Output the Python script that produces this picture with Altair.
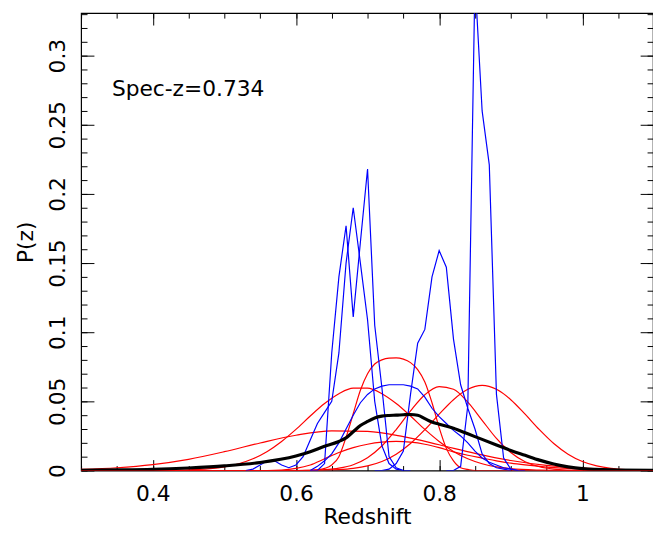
import altair as alt
import pandas as pd

FONT = "DejaVu Sans"

# ---------------- blue curves (z, P(z)) ----------------
b1_z = [0.62, 0.63, 0.64, 0.65, 0.66, 0.67, 0.68, 0.69, 0.70, 0.71, 0.72, 0.73, 0.74, 0.75, 0.76]
b1_p = [0, 0, 0.005, 0.085, 0.14, 0.177, 0.111, 0.165, 0.218, 0.105, 0.06, 0.01, 0.002, 0, 0]

b2_z = [0.53, 0.54, 0.55, 0.56, 0.57, 0.58, 0.59, 0.60, 0.61, 0.62, 0.63, 0.64, 0.65, 0.66,
        0.67, 0.68, 0.69, 0.70, 0.71, 0.72, 0.73, 0.74, 0.75]
b2_p = [0, 0.001, 0.004, 0.007, 0.007, 0.004, 0.002, 0.004, 0.01, 0.022, 0.034, 0.042, 0.05, 0.085,
        0.15, 0.19, 0.15, 0.109, 0.05, 0.018, 0.005, 0.001, 0]

b3_z = [0.62, 0.63, 0.64, 0.65, 0.66, 0.67, 0.68, 0.69, 0.70, 0.71, 0.72, 0.73, 0.74, 0.75, 0.76,
        0.77, 0.78, 0.79, 0.80, 0.81, 0.82, 0.83, 0.84, 0.85, 0.86, 0.87, 0.88, 0.89, 0.90, 0.91]
b3_p = [0, 0.003, 0.007, 0.012, 0.02, 0.03, 0.04, 0.049, 0.055, 0.059, 0.061, 0.062, 0.062, 0.062, 0.061,
        0.059, 0.053, 0.045, 0.039, 0.034, 0.029, 0.025, 0.02, 0.014, 0.009, 0.006, 0.004, 0.002, 0.001, 0]

b4_z = [0.71, 0.72, 0.73, 0.74, 0.75, 0.76, 0.77, 0.78, 0.79, 0.80, 0.81, 0.82, 0.83, 0.84, 0.85,
        0.86, 0.87, 0.88, 0.89, 0.90]
b4_p = [0, 0, 0.001, 0.005, 0.014, 0.055, 0.092, 0.102, 0.14, 0.159, 0.147, 0.095, 0.062, 0.045, 0.03,
        0.012, 0.005, 0.002, 0.001, 0]

b5_z = [0.81, 0.82, 0.83, 0.84, 0.85, 0.86, 0.87, 0.88, 0.89, 0.90, 0.91, 0.92]
b5_p = [0, 0, 0.003, 0.047, 0.355, 0.26, 0.221, 0.055, 0.009, 0.001, 0, 0]

# ---------------- red curves ----------------
r1_z = [0.30, 0.35, 0.40, 0.45, 0.50, 0.55, 0.60, 0.65, 0.70, 0.75, 0.80, 0.85, 0.90, 0.95, 1.00, 1.05, 1.10]
r1_p = [0.0008, 0.0020, 0.0043, 0.0081, 0.0136, 0.0199, 0.0255, 0.0287, 0.0283, 0.0245, 0.0186, 0.0124,
        0.0072, 0.0037, 0.0017, 0.0007, 0.0002]

re_z = [0.30, 0.56, 0.58, 0.60, 0.62, 0.64, 0.66, 0.68, 0.70, 0.72, 0.74, 0.76, 0.78, 0.80, 0.82, 0.84,
        0.86, 0.88, 0.90, 0.92, 0.95, 1.00, 1.05, 1.10]
re_p = [0, 0, 0.0003, 0.0015, 0.004, 0.0085, 0.013, 0.0165, 0.019, 0.0205, 0.021, 0.0205, 0.019, 0.0165,
        0.0135, 0.011, 0.009, 0.007, 0.0053, 0.004, 0.0025, 0.001, 0.0003, 0]

ra_z = [0.30, 0.62, 0.63, 0.64, 0.65, 0.66, 0.67, 0.68, 0.69, 0.70, 0.71, 0.72, 0.73, 0.74, 0.75, 0.76,
        0.77, 0.78, 0.79, 0.80, 0.81, 0.82, 0.83, 0.84, 0.85, 1.10]
ra_p = [0, 0, 0.0005, 0.0015, 0.004, 0.010, 0.024, 0.041, 0.058, 0.070, 0.077, 0.080, 0.0813, 0.0815,
        0.0805, 0.078, 0.073, 0.064, 0.049, 0.031, 0.016, 0.007, 0.002, 0.0008, 0, 0]

rb_z = [0.30, 0.40, 0.44, 0.48, 0.50, 0.52, 0.54, 0.56, 0.58, 0.60, 0.62, 0.64, 0.66, 0.68, 0.70, 0.72,
        0.74, 0.76, 0.78, 0.80, 0.82, 0.84, 0.86, 0.88, 0.90, 0.94, 0.98, 1.10]
rb_p = [0, 0, 0.0003, 0.0013, 0.0026, 0.0049, 0.0085, 0.0138, 0.021, 0.0297, 0.0394, 0.0484, 0.0555,
        0.0595, 0.0595, 0.0555, 0.0484, 0.0394, 0.0297, 0.021, 0.0138, 0.0085, 0.0049, 0.0026, 0.0013,
        0.0003, 0, 0]

rc_z = [0.30, 0.60, 0.62, 0.64, 0.66, 0.68, 0.70, 0.72, 0.74, 0.76, 0.78, 0.80, 0.82, 0.84, 0.86, 0.88,
        0.90, 0.92, 0.94, 0.96, 0.98, 1.00, 1.10]
rc_p = [0, 0, 0.0002, 0.0006, 0.0017, 0.0042, 0.0093, 0.0177, 0.0296, 0.0431, 0.0548, 0.0607, 0.0587,
        0.0494, 0.0363, 0.0232, 0.013, 0.0063, 0.0027, 0.001, 0.0003, 0, 0]

rd_z = [0.30, 0.60, 0.62, 0.64, 0.66, 0.68, 0.70, 0.72, 0.74, 0.76, 0.78, 0.80, 0.82, 0.84, 0.86, 0.88,
        0.90, 0.92, 0.94, 0.96, 0.98, 1.00, 1.02, 1.04, 1.06, 1.08, 1.10]
rd_p = [0, 0, 0.0001, 0.0002, 0.0006, 0.0015, 0.0033, 0.0065, 0.0118, 0.0195, 0.0295, 0.0407, 0.0512,
        0.0587, 0.0615, 0.0587, 0.0512, 0.0407, 0.0295, 0.0195, 0.0118, 0.0065, 0.0033, 0.0015, 0.0006,
        0.0002, 0.0001]

# ---------------- black (combined) curve ----------------
k_z = [0.30, 0.35, 0.40, 0.45, 0.50, 0.55, 0.60, 0.62, 0.64, 0.66, 0.67, 0.68, 0.69, 0.70, 0.71, 0.72,
       0.73, 0.74, 0.75, 0.76, 0.77, 0.78, 0.79, 0.80, 0.82, 0.84, 0.86, 0.88, 0.90, 0.92, 0.94, 0.96,
       0.98, 1.00, 1.04, 1.10]
k_p = [0.0002, 0.0004, 0.0008, 0.0018, 0.0033, 0.0058, 0.0105, 0.0135, 0.0175, 0.021, 0.0236, 0.028,
       0.0325, 0.0355, 0.038, 0.0393, 0.0398, 0.040, 0.0403, 0.0405, 0.040, 0.0375, 0.035, 0.0335,
       0.0305, 0.0265, 0.0225, 0.0185, 0.0145, 0.011, 0.0075, 0.0047, 0.0026, 0.0013, 0.0004, 0.0001]

# ---------------- annotation and axes ----------------
note_z = [0.343]
note_p = [0.2707]
note_text = ["Spec-z=0.734"]

x_major = [0.4, 0.6, 0.8, 1.0]
x_minor = [0.30, 0.35, 0.40, 0.45, 0.50, 0.55, 0.60, 0.65, 0.70, 0.75, 0.80, 0.85, 0.90, 0.95, 1.00, 1.05]
y_major = [0, 0.05, 0.1, 0.15, 0.2, 0.25, 0.3]
y_minor = [0.00, 0.01, 0.02, 0.03, 0.04, 0.05, 0.06, 0.07, 0.08, 0.09, 0.10, 0.11, 0.12, 0.13, 0.14,
           0.15, 0.16, 0.17, 0.18, 0.19, 0.20, 0.21, 0.22, 0.23, 0.24, 0.25, 0.26, 0.27, 0.28, 0.29,
           0.30, 0.31, 0.32, 0.33]

X_DOMAIN = [0.3, 1.0986]
Y_DOMAIN = [0, 0.3307]


def frame(name, zs, ps):
    return pd.DataFrame({"z": zs, "p": ps, "curve": name})


blue_df = pd.concat([frame("b1", b1_z, b1_p), frame("b2", b2_z, b2_p), frame("b3", b3_z, b3_p),
                     frame("b4", b4_z, b4_p), frame("b5", b5_z, b5_p)])
red_df = pd.concat([frame("r1", r1_z, r1_p), frame("re", re_z, re_p), frame("ra", ra_z, ra_p),
                    frame("rb", rb_z, rb_p), frame("rc", rc_z, rc_p), frame("rd", rd_z, rd_p)])
black_df = frame("all", k_z, k_p)
note_df = pd.DataFrame({"z": note_z, "p": note_p, "t": note_text})

xs = alt.Scale(domain=X_DOMAIN, nice=False, zero=False)
ys = alt.Scale(domain=Y_DOMAIN, nice=False, zero=False)

common = dict(domain=False, grid=False, tickColor="black", tickWidth=1)


def tick_axis(orient, values, size):
    return alt.Axis(orient=orient, values=values, offset=-size, tickSize=size, labels=False, **common)


ax_x_main = alt.Axis(orient="bottom", values=x_major, offset=-11, tickSize=11, labels=True,
                     labelFontSize=22, labelFont=FONT, labelColor="black", labelPadding=13,
                     labelFlush=False, labelOverlap=False, format="~g",
                     titleFontSize=22, titleFont=FONT, titleFontWeight="normal", titleColor="black",
                     titleBaseline="alphabetic", titleY=65, **common)
ax_y_main = alt.Axis(orient="left", values=y_major, offset=-13, tickSize=13, labels=True,
                     labelFontSize=22, labelFont=FONT, labelColor="black", labelAngle=270,
                     labelAlign="center", labelBaseline="alphabetic", labelPadding=17,
                     labelFlush=False, labelOverlap=False, format="~g",
                     titleFontSize=22, titleFont=FONT, titleFontWeight="normal", titleColor="black",
                     titleAngle=270, titleAlign="center", titleBaseline="alphabetic",
                     titleX=-62, titleY=231.5, **common)

red = alt.Chart(red_df).mark_line(color="#ff0000", strokeWidth=1.2, clip=True, interpolate="monotone").encode(
    x=alt.X("z:Q", scale=xs, axis=ax_x_main, title="Redshift"),
    y=alt.Y("p:Q", scale=ys, axis=ax_y_main, title="P(z)"),
    detail="curve:N",
)
blue = alt.Chart(blue_df).mark_line(color="#0000ff", strokeWidth=1.2, clip=True).encode(
    x=alt.X("z:Q", scale=xs, axis=tick_axis("bottom", x_minor, 5), title=None),
    y=alt.Y("p:Q", scale=ys, axis=tick_axis("left", y_minor, 6), title=None),
    detail="curve:N",
)
black = alt.Chart(black_df).mark_line(color="black", strokeWidth=3.2, clip=True, interpolate="monotone").encode(
    x=alt.X("z:Q", scale=xs, axis=tick_axis("top", x_major, 12), title=None),
    y=alt.Y("p:Q", scale=ys, axis=tick_axis("right", y_major, 13), title=None),
)
note = alt.Chart(note_df).mark_text(align="left", baseline="alphabetic", fontSize=22, font=FONT,
                                    color="black").encode(
    x=alt.X("z:Q", scale=xs, axis=tick_axis("top", x_minor, 5), title=None),
    y=alt.Y("p:Q", scale=ys, axis=tick_axis("right", y_minor, 6), title=None),
    text="t:N",
)

chart = alt.layer(red, blue, black, note).resolve_axis(
    x="independent", y="independent"
).resolve_scale(x="shared", y="shared").properties(
    width=579, height=463,
    padding={"left": 74, "top": 2, "right": 0, "bottom": 56},
    autosize=alt.AutoSizeParams(type="none"),
    background="white",
).configure_view(stroke="black", strokeWidth=1.2)

chart.save("out.html", embed_options={"renderer": "svg", "actions": False})
